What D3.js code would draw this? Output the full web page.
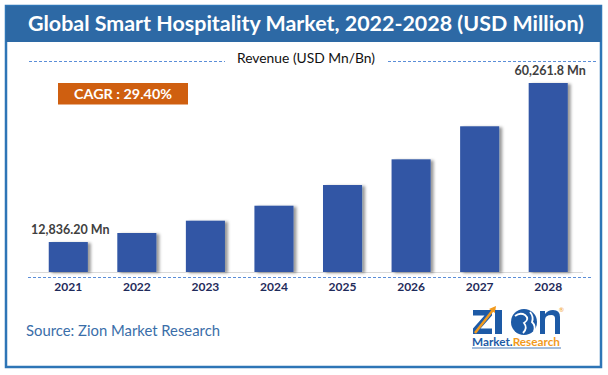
<!DOCTYPE html>
<html>
<head>
<meta charset="utf-8">
<script src="https://cdn.jsdelivr.net/npm/d3@7"></script>
<style>
  body { margin: 0; background: #fff; }
  svg { display: block; font-family: Lato, "Open Sans", sans-serif; }
</style>
</head>
<body>
<div id="container"></div>
<script>
/* CONSTANTS AND GLOBALS */
const width = 608,
  height = 375

// DATA
const years = ["2021", "2022", "2023", "2024", "2025", "2026", "2027", "2028"]
const revenue = [12836.2, 15530, 19200, 23670, 29840, 37500, 47350, 60261.8]
const valueLabels = ["12,836.20 Mn", "", "", "", "", "", "", "60,261.8 Mn"]
const titleText = "Global Smart Hospitality Market, 2022-2028 (USD Million)"
const subtitleText = "Revenue (USD Mn/Bn)"
const cagrText = "CAGR : 29.40%"
const sourceText = "Source: Zion Market Research"
const axisMin = 3900 // the value axis doesn't start at zero

const svg = d3.select("#container")
  .append("svg")
  .attr("width", width)
  .attr("height", height)

const defs = svg.append("defs")
defs.append("filter")
  .attr("id", "shadow")
  .attr("x", "-20%").attr("y", "-10%")
  .attr("width", "160%").attr("height", "130%")
  .append("feDropShadow")
  .attr("dx", 3).attr("dy", 1)
  .attr("stdDeviation", 1.6)
  .attr("flood-color", "#000")
  .attr("flood-opacity", 0.4)

// FRAME + TITLE BAND
svg.append("rect")
  .attr("x", 6).attr("y", 6)
  .attr("width", 595).attr("height", 361)
  .attr("fill", "#fff")
  .attr("stroke", "#2e75b6")
  .attr("stroke-width", 2.5)

svg.append("rect")
  .attr("x", 6).attr("y", 6)
  .attr("width", 595).attr("height", 36)
  .attr("fill", "#2d69a5")

svg.append("text")
  .attr("x", 306).attr("y", 31)
  .attr("text-anchor", "middle")
  .attr("fill", "#fff")
  .attr("font-size", 21)
  .attr("font-weight", "bold")
  .attr("textLength", 556)
  .attr("lengthAdjust", "spacingAndGlyphs")
  .text(titleText)

// SUBTITLE WITH DASHED RULES
const dashColor = "#5b8ed8"
svg.append("line")
  .attr("x1", 29).attr("x2", 225).attr("y1", 61.5).attr("y2", 61.5)
  .attr("stroke", dashColor).attr("stroke-dasharray", "3,2")
svg.append("line")
  .attr("x1", 388).attr("x2", 598).attr("y1", 61.5).attr("y2", 61.5)
  .attr("stroke", dashColor).attr("stroke-dasharray", "3,2")
svg.append("text")
  .attr("x", 306).attr("y", 63)
  .attr("text-anchor", "middle")
  .attr("fill", "#111")
  .attr("font-size", 13)
  .attr("textLength", 138)
  .attr("lengthAdjust", "spacingAndGlyphs")
  .text(subtitleText)

// CAGR BOX
svg.append("rect")
  .attr("x", 58).attr("y", 83)
  .attr("width", 130).attr("height", 21.5)
  .attr("fill", "#cf5f10")
svg.append("text")
  .attr("x", 123).attr("y", 98.5)
  .attr("text-anchor", "middle")
  .attr("fill", "#fff")
  .attr("font-size", 14)
  .attr("font-weight", "bold")
  .attr("textLength", 98)
  .attr("lengthAdjust", "spacingAndGlyphs")
  .text(cagrText)

// SCALES
const xScale = d3.scaleBand()
  .domain(years)
  .range([34, 582.5])
  .paddingInner(0.43)
  .paddingOuter(0.215)

const yScale = d3.scaleLinear()
  .domain([axisMin, revenue[revenue.length - 1]])
  .range([272, 83])

// BASELINE + DASHED RULE UNDER IT
svg.append("line")
  .attr("x1", 30).attr("x2", 583).attr("y1", 272.5).attr("y2", 272.5)
  .attr("stroke", "#d9d9d9").attr("stroke-width", 1)
svg.append("line")
  .attr("x1", 28).attr("x2", 592).attr("y1", 277.5).attr("y2", 277.5)
  .attr("stroke", dashColor).attr("stroke-dasharray", "3,2")

// BARS
const data = years.map((y, i) => ({ year: y, value: revenue[i], label: valueLabels[i] }))

svg.selectAll(".bar")
  .data(data)
  .join("rect")
  .attr("class", "bar")
  .attr("x", d => xScale(d.year))
  .attr("y", d => yScale(d.value))
  .attr("width", xScale.bandwidth())
  .attr("height", d => yScale(axisMin) - yScale(d.value))
  .attr("fill", "#3156a5")
  .attr("filter", "url(#shadow)")

// VALUE LABELS
svg.selectAll(".valueLabel")
  .data(data.filter(d => d.label))
  .join("text")
  .attr("class", "valueLabel")
  .attr("x", d => xScale(d.year) + xScale.bandwidth() / 2 + 2)
  .attr("y", d => yScale(d.value) - 8)
  .attr("text-anchor", "middle")
  .attr("fill", "#404040")
  .attr("font-size", 12.5)
  .attr("font-weight", "bold")
  .text(d => d.label)

// X AXIS LABELS
const xAxis = d3.axisBottom(xScale).tickSize(0).tickPadding(0)
const xAxisGroup = svg.append("g")
  .attr("class", "xAxis")
  .attr("transform", `translate(0, ${282})`)
  .call(xAxis)
xAxisGroup.select(".domain").remove()
xAxisGroup.selectAll("text")
  .attr("fill", "#1f2b5b")
  .attr("font-size", 12)
  .attr("font-weight", "bold")
  .attr("font-family", "Lato, sans-serif")

// SOURCE
svg.append("text")
  .attr("x", 26).attr("y", 336)
  .attr("fill", "#3a6ea9")
  .attr("font-size", 15)
  .attr("textLength", 194)
  .attr("lengthAdjust", "spacingAndGlyphs")
  .text(sourceText)

// LOGO (drawn with shapes so the letters keep their spacing)
const logoBlue = "#1d5aa6",
  logoOrange = "#f29a1d"
const logo = svg.append("g").attr("transform", "translate(473, 306)")
// Z
logo.append("path")
  .attr("d", "M0,4 H19 V9.5 L7.5,22.5 H19 V28 H0 V22.5 L11.5,9.5 H0 Z")
  .attr("fill", logoBlue)
// arrow through the Z
logo.append("path")
  .attr("d", "M2,27 L20,4")
  .attr("stroke", logoOrange)
  .attr("stroke-width", 2.5)
logo.append("path")
  .attr("d", "M16,3 L23,0 L22,7 Z")
  .attr("fill", logoOrange)
// I
logo.append("rect")
  .attr("x", 22).attr("y", 4)
  .attr("width", 7).attr("height", 24)
  .attr("fill", logoBlue)
// globe
logo.append("circle")
  .attr("cx", 51).attr("cy", 16).attr("r", 13)
  .attr("fill", logoBlue)
logo.append("path")
  .attr("d", "M42,10 Q47,6 52,9 Q57,13 51,17 Q55,22 50,27 M57,6 Q61,11 59,16 Q63,20 61,25")
  .attr("fill", "none")
  .attr("stroke", "#fff")
  .attr("stroke-width", 1.8)
// n
logo.append("path")
  .attr("d", "M67,28 V5 H72 V8 Q75,4 80,4 Q87,4 87,11 V28 H82 V12.5 Q82,9 78.5,9 Q72,9 72,14 V28 Z")
  .attr("fill", logoBlue)
logo.append("text")
  .attr("x", 86).attr("y", 6)
  .attr("fill", logoOrange)
  .attr("font-size", 6)
  .text("®")
const tagline = logo.append("text")
  .attr("x", -1).attr("y", 40)
  .attr("font-size", 11)
  .attr("font-weight", "bold")
  .attr("textLength", 88)
  .attr("lengthAdjust", "spacingAndGlyphs")
tagline.append("tspan").attr("fill", logoBlue).text("Market.")
tagline.append("tspan").attr("fill", logoOrange).text("Research")
logo.append("line")
  .attr("x1", -1).attr("x2", 88).attr("y1", 42).attr("y2", 42)
  .attr("stroke", logoBlue).attr("stroke-width", 0.8)
</script>
</body>
</html>
